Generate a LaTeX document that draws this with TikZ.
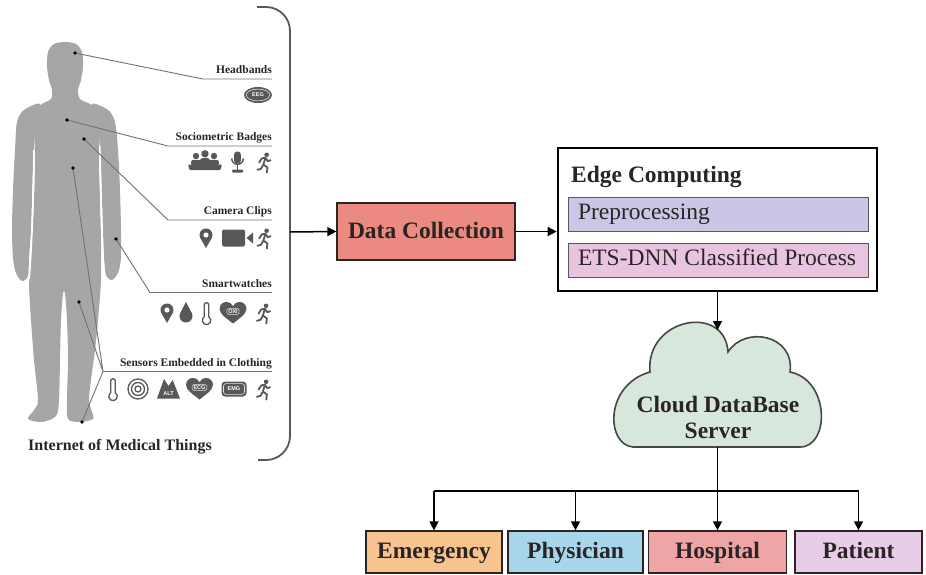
\documentclass[tikz,border=0pt]{standalone}
\usepackage{fontspec}
\setmainfont{Liberation Serif}
\newfontfamily\iconsans{Liberation Sans}
\usetikzlibrary{arrows.meta,calc}

\definecolor{figgray}{RGB}{166,166,166}
\definecolor{icongray}{RGB}{88,88,88}
\definecolor{leadgray}{RGB}{112,112,112}
\definecolor{inkdark}{RGB}{42,36,36}
\definecolor{dcfill}{RGB}{234,138,128}
\definecolor{prefill}{RGB}{201,199,229}
\definecolor{etsfill}{RGB}{232,196,224}
\definecolor{cloudfill}{RGB}{215,231,219}
\definecolor{emfill}{RGB}{247,196,143}
\definecolor{phyfill}{RGB}{168,212,236}
\definecolor{hosfill}{RGB}{239,165,166}
\definecolor{patfill}{RGB}{232,205,232}

\newcommand{\mainfnt}{\fontsize{23.5}{26}\selectfont}
\newcommand{\lblfnt}{\bfseries\fontsize{11.5}{13}\selectfont}
\newcommand{\tagfnt}{\iconsans\bfseries\fontsize{5.5}{6}\selectfont}

\tikzset{
  flowbox/.style={draw=inkdark, line width=1.3pt, font=\bfseries\mainfnt,
    text=inkdark, inner sep=0pt, align=center, text height=17.5pt, text depth=4.5pt},
  stagebox/.style={draw=icongray, line width=1pt, font=\mainfnt, text=inkdark,
    inner xsep=10pt, inner ysep=0pt, minimum height=34pt,
    text height=16.5pt, text depth=5pt},
  arr/.style={draw=black, line width=1.5pt, -{Triangle[length=9pt,width=9pt]}},
  bus/.style={draw=black, line width=1.5pt},
  lead/.style={draw=leadgray, line width=0.9pt},
  brace/.style={draw=icongray, line width=1.8pt, rounded corners=24pt},
  lbl/.style={font=\lblfnt, text=inkdark, anchor=base east, inner sep=0pt},
  tag/.style={font=\tagfnt, text=white, inner sep=0.6pt},
  % small pictograms
  pics/runner/.style={code={
    \fill[icongray] (2.6,-8.2) circle[radius=2.3];
    \draw[icongray, line width=1.8pt, line cap=round, line join=round]
      (-4.8,-0.5) -- (-2.2,-4.6) -- (1.4,-5.2) -- (3.8,-1.8) -- (6.6,-2.8)
      (1.4,-5.2) -- (-0.6,1.6) -- (3.4,4.4) -- (2.8,9.6)
      (-0.6,1.6) -- (-3,5.8) -- (-6.6,6.8);
  }},
  pics/pin/.style={code={
    \fill[icongray] (0,10) -- (-5.63,0.25) arc[start angle=150, end angle=390, radius=6.5] -- cycle;
    \fill[white] (0,-3) circle[radius=2.6];
  }},
  pics/drop/.style={code={
    \fill[icongray] (0,-11) -- (5.75,-0.02) arc[start angle=332.3, end angle=567.7, radius=6.5] -- cycle;
  }},
  pics/thermo/.style={code={
    \draw[icongray, line width=1.3pt, line join=round]
      (-2.3,3.7) -- (-2.3,-8) arc[start angle=180, end angle=360, radius=2.3]
      -- (2.3,3.7) arc[start angle=302, end angle=598, radius=4.3] -- cycle;
  }},
  pics/heart/.style={code={
    \fill[icongray] (0,10.5) .. controls (-5,6.5) and (-13.5,1) .. (-13.5,-4)
      .. controls (-13.5,-8.5) and (-10,-11) .. (-6.8,-11)
      .. controls (-3.2,-11) and (-1,-9) .. (0,-6.8)
      .. controls (1,-9) and (3.2,-11) .. (6.8,-11)
      .. controls (10,-11) and (13.5,-8.5) .. (13.5,-4)
      .. controls (13.5,1) and (5,6.5) .. (0,10.5) -- cycle;
    \node[tag, draw=white!85!icongray, line width=0.5pt, rounded corners=1.5pt,
      inner xsep=1.4pt, inner ysep=1pt] (-txt) at (0,-1.5) {#1};
  }},
  pics/eeg/.style={code={
    \fill[icongray] (0,0) ellipse[x radius=14, y radius=8];
    \draw[white!80!icongray, line width=0.6pt] (0,0) ellipse[x radius=11.8, y radius=5.9];
    \node[tag] (-txt) at (0,0) {EEG};
  }},
  pics/emg/.style={code={
    \fill[icongray, rounded corners=3.5pt] (-12.5,-7.5) rectangle (12.5,7.5);
    \draw[white!80!icongray, line width=0.6pt, rounded corners=2.5pt] (-10.5,-5.4) rectangle (10.5,5.4);
    \node[tag] (-txt) at (0,0) {EMG};
  }},
  pics/alt/.style={code={
    \fill[icongray, line join=round] (-11.5,9.5) -- (-4.5,-10) -- (0,-3) -- (4.2,-9) -- (11.5,9.5) -- cycle;
    \node[tag] (-txt) at (0,5) {ALT};
  }},
  pics/target/.style={code={
    \draw[icongray, line width=1.3pt] (0,0) circle[radius=10] (0,0) circle[radius=6.5] (0,0) circle[radius=3];
  }},
  pics/camera/.style={code={
    \fill[icongray, rounded corners=2pt] (-11.5,-8.5) rectangle (11.5,8.5);
    \fill[icongray] (13,0) -- (19.5,-5.5) -- (19.5,5.5) -- cycle;
  }},
  pics/mic/.style={code={
    \fill[icongray, rounded corners=3pt] (-3.4,-10.5) rectangle (3.4,1.5);
    \draw[icongray, line width=1.5pt] (-5.8,-3.5) arc[start angle=180, end angle=0, radius=5.8];
    \draw[icongray, line width=1.6pt] (0,2.3) -- (0,8.5);
    \fill[icongray, rounded corners=1pt] (-5.5,7.5) rectangle (5.5,10.5);
  }},
  pics/crowd/.style={code={
    \fill[icongray] (-9,-6) circle[radius=3.2] (9,-6) circle[radius=3.2] (0,-8.2) circle[radius=3.7];
    \fill[icongray, rounded corners=2.5pt] (-14,4) rectangle (-4,-2.2);
    \fill[icongray, rounded corners=2.5pt] (4,4) rectangle (14,-2.2);
    \fill[icongray, rounded corners=3pt] (-5.2,4) rectangle (5.2,-4);
    \fill[icongray, rounded corners=1pt] (-17,2.5) -- (17,2.5) -- (15.5,8) -- (-15.5,8) -- cycle;
  }},
}

\begin{document}
\begin{tikzpicture}[x=1pt,y=-1pt]
\useasboundingbox (0,0) rectangle (926,575);

% ---------- human figure ----------
\fill[figgray] plot[smooth cycle, tension=0.5] coordinates {
  (40,104) (24,110) (17,122) (15,150) (13,190) (12,230) (13,258) (16,273)
  (22,281) (28,276) (29,258) (31,230) (32,200) (33,170) (34,145) (36,125)};
\fill[figgray] plot[smooth cycle, tension=0.5] coordinates {
  (92,104) (108,110) (115,122) (118,150) (120,190) (121,230) (121,258) (118,273)
  (112,280) (106,275) (104,258) (103,230) (102,200) (101,170) (100,145) (98,125)};
\fill[figgray] plot[smooth cycle, tension=0.5] coordinates {
  (65,42) (76,44) (82,52) (83,66) (81,80) (78,90) (80,99) (90,104) (99,112)
  (100,130) (99,160) (100,200) (101,240) (101,280) (98,320) (95,350) (91,380)
  (89,400) (92,412) (93,419) (80,422) (68,419) (67,400) (68,360) (67,320)
  (65,294) (63,294) (61,320) (60,360) (59,400) (56,416) (42,422) (28,419)
  (34,410) (38,400) (34,360) (31,320) (29,280) (32,240) (34,200) (35,160)
  (34,130) (34,112) (42,104) (51,99) (52,90) (49,80) (47,66) (48,52) (54,44)};
% gaps between arms and trunk
\draw[white, line width=1.6pt] plot[smooth] coordinates {(34,150) (33.4,180) (32.4,220) (30.8,255) (29.2,279)};
\draw[white, line width=1.6pt] plot[smooth] coordinates {(99.8,146) (100.6,180) (101.6,220) (102.8,252) (104.6,279)};

% ---------- sensor labels ----------
\node[lbl] (lHead) at (272,73.5) {Headbands};
\node[lbl] (lBadge) at (272,140.5) {Sociometric Badges};
\node[lbl] (lCam) at (272,214.5) {Camera Clips};
\node[lbl] (lWatch) at (272,287) {Smartwatches};
\node[lbl] (lCloth) at (272,366) {Sensors Embedded in Clothing};

% ---------- leader lines ----------
\coordinate (dHead) at (75,53);
\coordinate (dBadge) at (67,120);
\coordinate (dCam) at (84,139);
\coordinate (dBelly) at (73,168);
\coordinate (dWrist) at (116,239);
\coordinate (dThigh) at (79,302);
\coordinate (dFoot) at (82,422);
\coordinate (kHead) at (203,79);
\coordinate (kBadge) at (168,146);
\coordinate (kCam) at (168,220);
\coordinate (kWatch) at (150,292.5);
\coordinate (kCloth) at (103,371.5);

\draw[lead] (dHead) -- (kHead) -- (kHead -| lHead.east);
\draw[lead] (dBadge) -- (kBadge) -- (kBadge -| lBadge.east);
\draw[lead] (dCam) -- (kCam) -- (kCam -| lCam.east);
\draw[lead] (dWrist) -- (kWatch) -- (kWatch -| lWatch.east);
\draw[lead] (dBelly) -- (kCloth) (dThigh) -- (kCloth) (dFoot) -- (kCloth)
  (kCloth) -- (kCloth -| lCloth.east);
\foreach \p in {dHead,dBadge,dCam,dBelly,dWrist,dThigh,dFoot}
  \fill[black] (\p) circle[radius=1.8];

% ---------- pictograms ----------
\pic (iEeg) at (258,95) {eeg};
\pic at (205,162) {crowd};
\pic at (237.5,162) {mic};
\pic at (264,163) {runner};
\pic at (206,238) {pin};
\pic at (233.5,238) {camera};
\pic at (264,239) {runner};
\pic at (167,313) {pin};
\pic at (186,313) {drop};
\pic at (206.5,313) {thermo};
\pic (iOxi) at (233,313) {heart=OXI};
\pic at (263.5,314) {runner};
\pic at (113,389) {thermo};
\pic at (138,389) {target};
\pic (iAlt) at (168.5,389) {alt};
\pic (iEcg) at (199.5,389) {heart=ECG};
\pic (iEmg) at (234,389) {emg};
\pic at (263.5,390) {runner};

\node[font=\bfseries\fontsize{16}{18}\selectfont, text=inkdark, anchor=base west, inner sep=0pt]
  (iomt) at (28,450) {Internet of Medical Things};

% ---------- bracket ----------
\draw[brace] (257,7) -- (290,7) -- (290,460) -- (258,460);
\coordinate (brk) at (290,232);

% ---------- processing chain ----------
\node[flowbox, fill=dcfill, minimum width=178pt, minimum height=57pt] (dc) at (426,231.5) {Data Collection};
\node[draw=black, line width=2.6pt, minimum width=319pt, minimum height=143pt, inner sep=0pt] (edge) at (717.5,219.5) {};
\node[font=\bfseries\mainfnt, text=inkdark, anchor=base west, inner sep=0pt] (edgeT) at (571,182) {Edge Computing};
\node[stagebox, fill=prefill] (pre) at (718,214) {\makebox[280pt][l]{Preprocessing}};
\node[stagebox, fill=etsfill] (ets) at (718,260) {\makebox[280pt][l]{ETS-DNN Classified Process}};

\draw[arr] (brk) -- (dc.west);
\draw[arr] (dc.east) -- (dc.east -| edge.west);

% ---------- cloud ----------
\filldraw[fill=cloudfill, draw=icongray!80!black, line width=1.6pt]
  (633,447) .. controls (606,445) and (604,385) .. (650,372)
  .. controls (645,318) and (725,303) .. (728,352)
  .. controls (745,325) and (795,335) .. (790,372)
  .. controls (830,380) and (830,447) .. (800,447) -- cycle;
\node[font=\bfseries\mainfnt, text=inkdark, align=center, inner sep=0pt] (cloud) at (718,417) {Cloud DataBase\\Server};
\coordinate (cloudTop) at (717.5,330);
\coordinate (cloudBot) at (717.5,447);
\draw[arr] (edge.south) -- (cloudTop);

% ---------- recipients ----------
\node[flowbox, fill=emfill, minimum width=136pt, minimum height=42pt] (em) at (434,552) {Emergency};
\node[flowbox, fill=phyfill, minimum width=135pt, minimum height=42pt] (phy) at (575.5,552) {Physician};
\node[flowbox, fill=hosfill, minimum width=138pt, minimum height=42pt] (hos) at (717.5,552) {Hospital};
\node[flowbox, fill=patfill, minimum width=127pt, minimum height=42pt] (pat) at (858.5,552) {Patient};

\coordinate (busY) at (717.5,491);
\draw[arr] (cloudBot) -- (hos.north);
\draw[bus] (em.north |- busY) -- (pat.north |- busY);
\draw[arr] (em.north |- busY) -- (em.north);
\draw[arr] (phy.north |- busY) -- (phy.north);
\draw[arr] (pat.north |- busY) -- (pat.north);
\end{tikzpicture}
\end{document}
